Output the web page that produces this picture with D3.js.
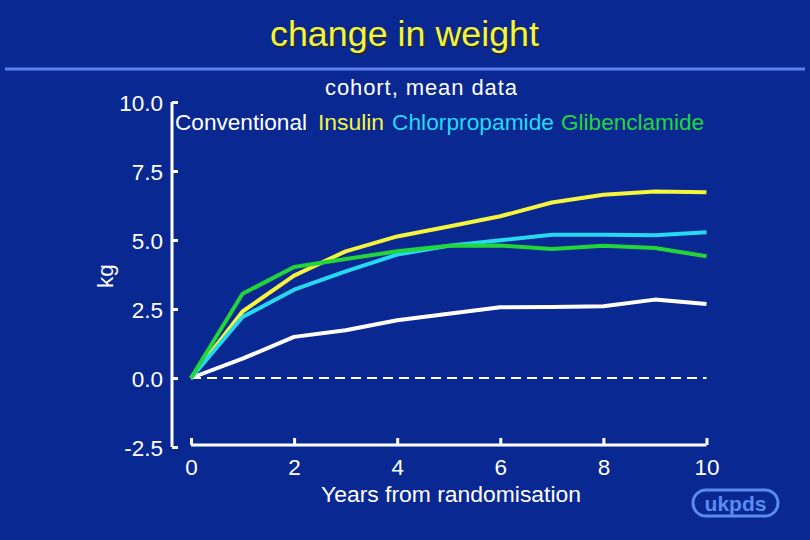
<!DOCTYPE html>
<html><head><meta charset="utf-8">
<script src="https://cdn.jsdelivr.net/npm/d3@7"></script>
<style>
html,body{margin:0;padding:0;background:#0a2892;}
svg{display:block;font-family:"Liberation Sans",Arial,sans-serif;}
</style></head>
<body>
<script>
const years = [0,1,2,3,4,5,6,7,8,9,10];
const conventional   = [0,0.70,1.49,1.73,2.09,2.33,2.56,2.57,2.60,2.84,2.68];
const insulin        = [0,2.41,3.71,4.59,5.13,5.49,5.86,6.36,6.64,6.76,6.73];
const chlorpropamide = [0,2.21,3.20,3.86,4.47,4.79,4.99,5.19,5.19,5.17,5.28];
const glibenclamide  = [0,3.05,4.02,4.31,4.59,4.79,4.80,4.67,4.79,4.71,4.41];
const seriesNames = ["Conventional","Insulin","Chlorpropamide","Glibenclamide"];
const yTicks = [-2.5,0,2.5,5,7.5,10];
const xTicks = [0,2,4,6,8,10];

const colors = ["#ffffff","#f4f53c","#26d8f2","#22d63a"];
const seriesData = [conventional, insulin, chlorpropamide, glibenclamide];

const W=810,H=540;
const FF="Liberation Sans, Arial, sans-serif";
const svg=d3.select("body").append("svg").attr("width",W).attr("height",H);
svg.append("rect").attr("width",W).attr("height",H).attr("fill","#0a2892");

const x=d3.scaleLinear().domain([0,10]).range([191,706.5]);
const y=d3.scaleLinear().domain([-2.5,10]).range([447,102]);

// title
svg.append("text").attr("x",271.5).attr("y",47.5)
  .attr("font-size",35).attr("fill","#2a2a10").attr("opacity",0.7)
  .attr("textLength",269).attr("lengthAdjust","spacingAndGlyphs").text("change in weight");
svg.append("text").attr("x",270).attr("y",46)
  .attr("font-size",35).attr("fill","#f4f53c")
  .attr("textLength",269).attr("lengthAdjust","spacingAndGlyphs").text("change in weight");
svg.append("line").attr("x1",5).attr("x2",805).attr("y1",69).attr("y2",69)
  .attr("stroke","#5a82ee").attr("stroke-width",3);
svg.append("text").attr("x",325).attr("y",95)
  .attr("font-size",22).attr("fill","#fff")
  .attr("textLength",192).attr("lengthAdjust","spacing").text("cohort, mean data");

// y axis
const yAxis=d3.axisRight(y).tickValues(yTicks).tickSize(5).tickFormat(d=>d.toFixed(1));
const gy=svg.append("g").attr("transform","translate(172,0)").call(yAxis);
gy.select(".domain").attr("stroke","#fff").attr("stroke-width",3).attr("d",`M0,${y(10)}V${y(-2.5)}`);
gy.selectAll(".tick line").attr("stroke","#fff").attr("stroke-width",3).attr("x2",6);
gy.selectAll(".tick text").attr("fill","#fff").attr("font-size",22.5).attr("text-anchor","end")
  .attr("x",-9).attr("dy","0.36em").attr("font-family",FF);
svg.append("text").attr("transform","translate(113,276) rotate(-90)").attr("text-anchor","middle")
  .attr("font-size",22.5).attr("fill","#fff").text("kg");

// x axis
const xAxis=d3.axisTop(x).tickValues(xTicks).tickSize(7).tickFormat(d3.format("d"));
const gx=svg.append("g").attr("transform","translate(0,445)").call(xAxis);
gx.select(".domain").attr("stroke","#fff").attr("stroke-width",3).attr("d",`M${x(0)},0H${x(10)}`);
gx.selectAll(".tick line").attr("stroke","#fff").attr("stroke-width",3);
gx.selectAll(".tick text").attr("fill","#fff").attr("font-size",22.5).attr("y",30).attr("dy",0)
  .attr("font-family",FF);
svg.append("text").attr("x",321).attr("y",502)
  .attr("font-size",22.5).attr("fill","#fff")
  .attr("textLength",260).attr("lengthAdjust","spacingAndGlyphs").text("Years from randomisation");

// zero dashed line
svg.append("line").attr("x1",x(0)).attr("x2",x(10)).attr("y1",y(0)).attr("y2",y(0))
  .attr("stroke","#fff").attr("stroke-width",2).attr("stroke-dasharray","10,6");

// lines
const line=d3.line().x((d,i)=>x(years[i])).y(d=>y(d));
seriesData.forEach((s,k)=>{
  svg.append("path").datum(s).attr("d",line).attr("fill","none")
    .attr("stroke",colors[k]).attr("stroke-width",4).attr("stroke-linejoin","round");
});

// legend
const legX=[175,318,392,561];
const legW=[132,66,162,143];
seriesNames.forEach((n,k)=>{
  svg.append("text").attr("x",legX[k]).attr("y",130).attr("font-size",22.5)
    .attr("fill",colors[k]).attr("textLength",legW[k]).attr("lengthAdjust","spacingAndGlyphs").text(n);
});

// logo
svg.append("rect").attr("x",693).attr("y",490).attr("width",85).attr("height",26).attr("rx",13)
  .attr("fill","none").attr("stroke","#5a8cf0").attr("stroke-width",3);
svg.append("text").attr("x",735.5).attr("y",510.5).attr("text-anchor","middle").attr("font-weight","bold")
  .attr("font-size",21).attr("fill","#5a8cf0").text("ukpds");
</script>
</body></html>
